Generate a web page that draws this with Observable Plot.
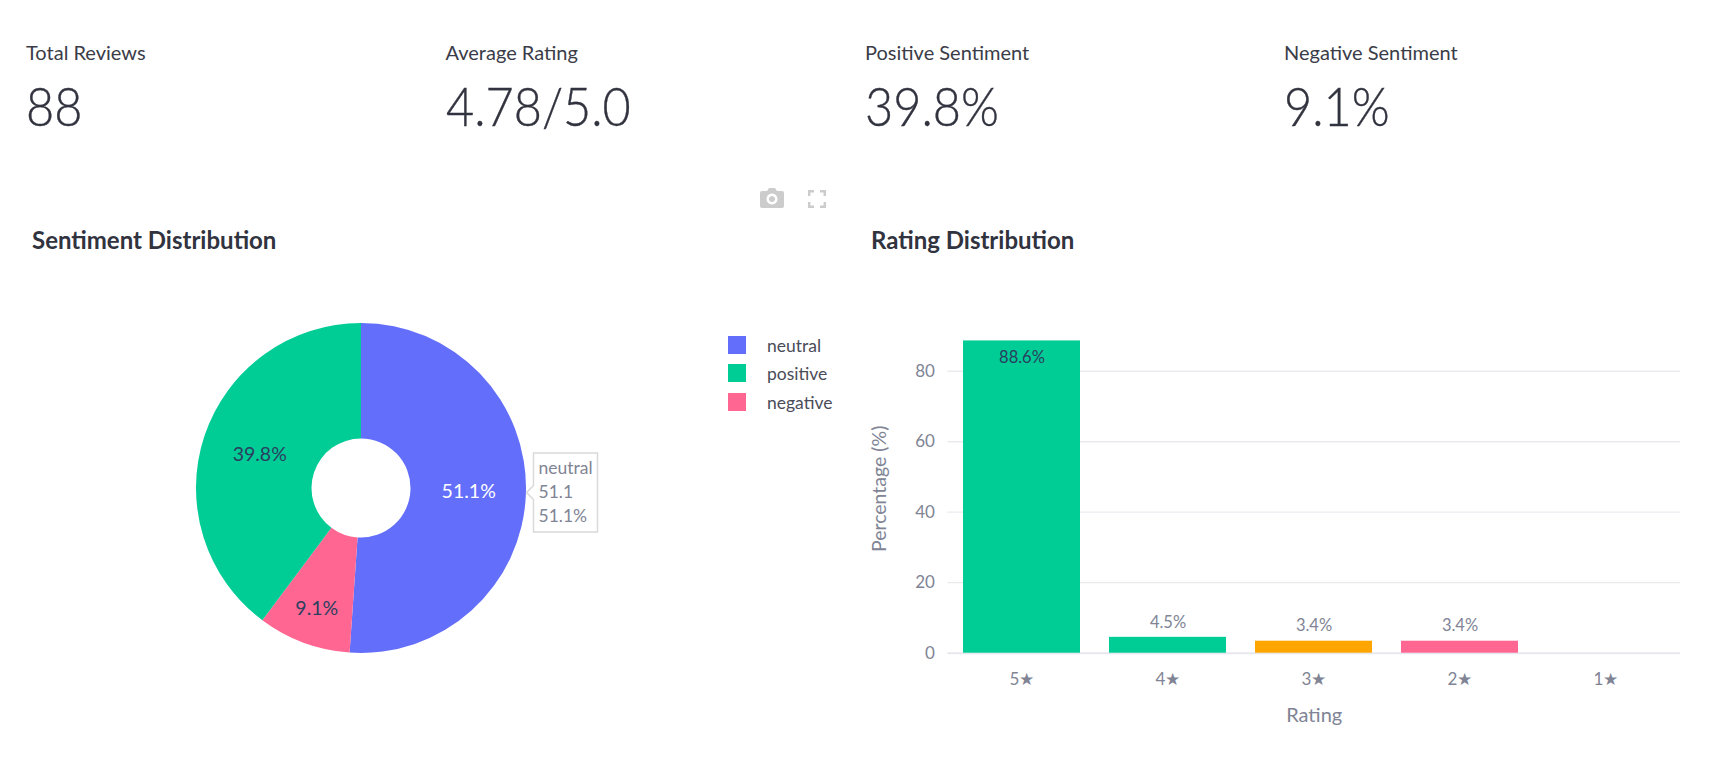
<!DOCTYPE html>
<html>
<head>
<meta charset="utf-8">
<script src="https://cdn.jsdelivr.net/npm/d3@7"></script>
<script src="https://cdn.jsdelivr.net/npm/@observablehq/plot@0.6"></script>
<style>
html,body{margin:0;padding:0;background:#fff;width:1730px;height:761px;overflow:hidden}
body{position:relative;font-family:Lato,"Noto Sans",sans-serif;color:#31333f}
.abs{position:absolute;white-space:nowrap;line-height:1}
.mlabel{font-size:20px;top:42px;font-weight:400;color:#3a3c48}
.mvalue{font-size:54px;top:79px;font-weight:300;transform:scaleX(.9);transform-origin:0 0;-webkit-text-stroke:.4px #31333f}
.ctitle{font-size:24px;font-weight:700;top:228px}
.sw{position:absolute;left:728px;width:18px;height:18px}
.lg{position:absolute;left:767px;font-size:17.500px;line-height:18px;color:#4a4c58}
#pie,#bar{position:absolute;top:200px}
#pie{left:0}#bar{left:860px}
svg{overflow:visible}
</style>
</head>
<body>
<div id="metrics"></div>
<div class="abs ctitle" style="left:32px">Sentiment Distribution</div>
<div class="abs ctitle" style="left:871px">Rating Distribution</div>
<svg class="abs" style="left:760px;top:188px" width="24" height="20" viewBox="0 0 24 20"><path fill="#ccc" fill-rule="evenodd" d="M2 3h5l2-3h6l2 3h5a2 2 0 0 1 2 2v13a2 2 0 0 1-2 2H2a2 2 0 0 1-2-2V5a2 2 0 0 1 2-2zM12 5.500a5.500 5.500 0 1 0 .01 0zM12 8a3 3 0 1 1-.01 0z"/></svg>
<svg class="abs" style="left:808px;top:190px" width="18" height="18" viewBox="0 0 18 18"><path fill="none" stroke="#ccc" stroke-width="2.500" d="M1.200 6V1.200H6M12 1.200h4.800V6M16.800 12v4.800H12M6 16.800H1.200V12"/></svg>
<div id="legend"></div>
<div id="pie"></div>
<div id="bar"></div>
<script>
const metricLabels = ["Total Reviews", "Average Rating", "Positive Sentiment", "Negative Sentiment"];
const metricValues = ["88", "4.78/5.0", "39.8%", "9.1%"];

const sentimentLabels = ["neutral", "negative", "positive"];
const sentimentValues = [51.1, 9.1, 39.8];
const sentimentTextRadius = [0.65, 0.78, 0.65];
const sentimentTextColors = ["#ffffff", "#2a3f5f", "#2a3f5f"];
const legendOrder = ["neutral", "positive", "negative"];
const sentimentColors = ["#636efa", "#ff6692", "#00cc96"];

const ratingLabels = ["5★", "4★", "3★", "2★", "1★"];
const ratingValues = [88.6, 4.5, 3.4, 3.4, 0];
const ratingColors = ["#00cc96", "#00cc96", "#ffa500", "#ff6692", "#ef553b"];

const font = 'Lato,"Noto Sans",sans-serif';
const grey = "#808495";

// metrics
const mx = [26, 445.500, 865, 1284];
document.getElementById("metrics").innerHTML = metricLabels.map((l, i) =>
  `<div class="abs mlabel" style="left:${mx[i]}px">${l}</div><div class="abs mvalue" style="left:${mx[i]}px">${metricValues[i]}</div>`).join("");

// legend
const legendColor = d3.scaleOrdinal(sentimentLabels, sentimentColors);
document.getElementById("legend").innerHTML = legendOrder.map((l, i) => {
  const top = 336 + i * 28.300;
  return `<div class="sw" style="top:${top}px;background:${legendColor(l)}"></div><div class="lg" style="top:${top + 1}px">${l}</div>`;
}).join("");

// donut
const pieRows = d3.pie().sort(null).value(d => d.value)(
  sentimentLabels.map((label, i) => ({label, value: sentimentValues[i], r: sentimentTextRadius[i], tc: sentimentTextColors[i]}))
).map(a => {
  const mid = (a.startAngle + a.endAngle) / 2;
  return {...a.data, a, ux: Math.sin(mid), uy: Math.cos(mid)};
});
const neutralRow = pieRows[0];

function slices(index, scales) {
  const [x0, x1] = [scales.x(-1), scales.x(1)];
  const R = (x1 - x0) / 2;
  const arc = d3.arc().innerRadius(R * 0.3).outerRadius(R);
  const g = d3.create("svg:g").attr("transform", `translate(${scales.x(0)},${scales.y(0)})`);
  g.selectAll("path").data(pieRows).join("path")
    .attr("d", d => arc(d.a))
    .attr("fill", d => scales.color(d.label));
  return g.node();
}

const pie = Plot.plot({
  width: 860, height: 561, margin: 0,
  style: {fontFamily: font, background: "transparent", overflow: "visible", color: grey},
  x: {domain: [-1, 1], range: [196, 526], axis: null},
  y: {domain: [-1, 1], range: [453, 123], axis: null},
  color: {domain: sentimentLabels, range: sentimentColors},
  marks: [
    Plot.dot(pieRows, {x: 0, y: 0, r: 0, fill: "label"}),
    slices,
    Plot.text(pieRows, {
      x: d => d.ux * d.r, y: d => d.uy * d.r,
      text: d => d.value.toFixed(1) + "%", fill: d => d.tc, fontSize: 19.500
    }),
    Plot.tip([neutralRow], {
      x: d => d.ux, y: d => d.uy, dy: -2, anchor: "left",
      title: d => `${d.label}\n${d.value}\n${d.value.toFixed(1)}%`,
      fontSize: 17.500, lineHeight: 1.370, textPadding: 5, pointerSize: 14, pathFilter: "none",
      stroke: "#d9d9d9", strokeWidth: 1.500, fill: "#fff"
    })
  ]
});
document.getElementById("pie").append(pie);

// bars
const ratingRows = ratingLabels.map((rating, i) => ({rating, value: ratingValues[i], color: ratingColors[i]}));
const bar = Plot.plot({
  width: 870, height: 561,
  marginLeft: 87.400, marginRight: 50, marginTop: 124, marginBottom: 108.300,
  style: {fontFamily: font, fontSize: "16px", background: "transparent", overflow: "visible", color: grey},
  x: {domain: ratingLabels, paddingInner: 0.2, paddingOuter: 0.1, align: 0.5, label: null},
  y: {domain: [0, 93.260], label: null},
  marks: [
    Plot.gridY([20, 40, 60, 80], {stroke: "#e9ebef", strokeOpacity: 1, strokeWidth: 1.300}),
    Plot.ruleY([0], {stroke: "#e6e8ee", strokeWidth: 2}),
    Plot.barY(ratingRows, {x: "rating", y: "value", fill: d => d.color}),
    Plot.axisY({ticks: [0, 20, 40, 60, 80], tickSize: 0, tickPadding: 13, label: null, fontSize: 17, color: grey}),
    Plot.axisX({tickSize: 0, tickPadding: 20, label: null, fontSize: 17, color: grey}),
    Plot.text(ratingRows.filter(d => d.value > 50), {
      x: "rating", y: "value", text: d => d.value + "%", dy: 17, fill: "#2a3f5f", fontSize: 16.500
    }),
    Plot.text(ratingRows.filter(d => d.value > 0 && d.value < 50), {
      x: "rating", y: "value", text: d => d.value + "%", dy: -15, fill: grey, fontSize: 16.500
    }),
    Plot.text(["Rating"], {frameAnchor: "bottom", dy: 69, text: d => d, fill: grey, fontSize: 20}),
    Plot.text(["Percentage (%)"], {frameAnchor: "left", textAnchor: "middle", dx: -68, rotate: -90, text: d => d, fill: grey, fontSize: 19.500})
  ]
});
document.getElementById("bar").append(bar);
</script>
</body>
</html>
